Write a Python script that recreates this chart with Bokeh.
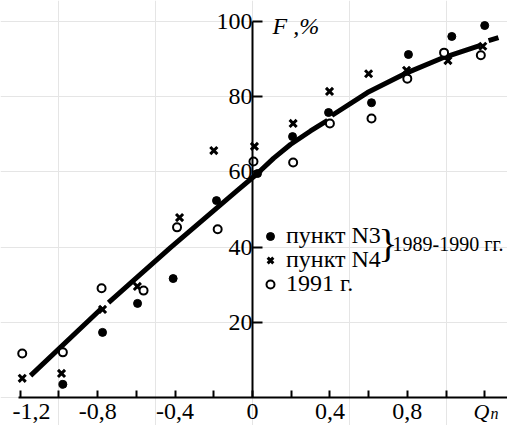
from bokeh.plotting import figure
from bokeh.models import LinearAxis, FixedTicker, Label, Legend, LegendItem, Range1d
from bokeh.embed import file_html
from bokeh.resources import INLINE

# ---- data ----
n3_x = [-0.98, -0.775, -0.594, -0.41, -0.186, 0.026, 0.207, 0.393, 0.615, 0.806, 1.03, 1.20]
n3_y = [3.6, 17.4, 25.1, 31.7, 52.4, 59.6, 69.4, 75.8, 78.4, 91.2, 96.0, 98.9]

n4_x = [-1.19, -0.987, -0.775, -0.595, -0.377, -0.2, 0.01, 0.21, 0.398, 0.60, 0.796, 1.01, 1.19]
n4_y = [5.2, 6.5, 23.5, 29.6, 47.9, 65.7, 66.8, 72.9, 81.4, 86.1, 87.0, 89.6, 93.4]

y91_x = [-1.19, -0.98, -0.78, -0.563, -0.39, -0.18, 0.005, 0.21, 0.40, 0.615, 0.80, 0.99, 1.18]
y91_y = [11.8, 12.1, 29.1, 28.5, 45.3, 44.8, 62.8, 62.5, 72.9, 74.2, 84.8, 91.7, 91.0]

nan = float("nan")
curve_x = [-1.147, -0.775, nan, -0.744, -0.424, -0.078, 0.021, 0.11, 0.196, 0.30, 0.388, nan,
           0.41, 0.594, 0.80, 0.987, 1.178, nan, 1.22, 1.271]
curve_y = [5.9, 24.0, nan, 25.3, 39.9, 55.1, 59.4, 63.7, 67.3, 70.9, 73.7, nan,
           75.0, 81.1, 86.4, 90.4, 93.6, nan, 94.9, 95.7]

x_ticks = [-1.2, -1.0, -0.8, -0.6, -0.4, -0.2, 0, 0.2, 0.4, 0.6, 0.8, 1.0, 1.2]
x_tick_labels = ["\u00a0\u00a0-1,2", "", "-0,8", "", "-0,4", "", "0", "", "0,4", "", "0,8", "", ""]
y_ticks = [20, 40, 60, 80, 100]
y_tick_labels = ["20", "40", "60", "80", "100"]

series_labels = ["пункт N3", "пункт N4", "1991 г."]
group_label = "1989-1990 гг."

FONT = "Liberation Serif"

p = figure(width=507, height=425, output_backend="svg", toolbar_location=None,
           x_axis_location=None, y_axis_location=None,
           x_range=Range1d(-1.3023, 1.3178), y_range=Range1d(-7.33, 105.55),
           min_border=0, min_border_left=0, min_border_right=0,
           min_border_top=0, min_border_bottom=0, title=None)
p.outline_line_color = None
p.background_fill_color = "white"
p.border_fill_color = "white"

xaxis = LinearAxis(fixed_location=0, ticker=FixedTicker(ticks=x_ticks),
                   major_label_overrides=dict(zip(x_ticks, x_tick_labels)),
                   bounds=(-1.21, 1.32), axis_line_width=2, axis_line_color="black",
                   major_tick_line_width=2, major_tick_line_color="black",
                   major_tick_in=7, major_tick_out=0, minor_tick_line_color=None,
                   major_label_standoff=0, major_label_text_font=FONT,
                   major_label_text_font_size="24px", major_label_text_color="black")
p.add_layout(xaxis, "below")

yaxis = LinearAxis(fixed_location=0, ticker=FixedTicker(ticks=y_ticks),
                   major_label_overrides=dict(zip(y_ticks, y_tick_labels)),
                   bounds=(0, 100), axis_line_width=2, axis_line_color="black",
                   major_tick_line_width=2, major_tick_line_color="black",
                   major_tick_in=10, major_tick_out=0, minor_tick_line_color=None,
                   major_label_standoff=0, major_label_text_font=FONT,
                   major_label_text_font_size="24px", major_label_text_color="black")
p.add_layout(yaxis, "left")

p.line(curve_x, curve_y, line_width=5, line_color="black")

r1 = p.scatter(n3_x, n3_y, marker="circle", size=8, fill_color="black", line_color="black")
r2 = p.scatter(n4_x, n4_y, marker="x", size=10, line_color="black", line_width=3)
r3 = p.scatter(y91_x, y91_y, marker="circle", size=8, fill_color="white",
               line_color="black", line_width=2)

for lab, r, ly in zip(series_labels, [r1, r2, r3], [176, 152, 128]):
    leg = Legend(items=[LegendItem(label=lab, renderers=[r])], location=(260, ly),
                 padding=0, margin=0, spacing=0, label_standoff=6,
                 glyph_width=20, glyph_height=20, label_height=20,
                 label_text_font=FONT, label_text_font_size="24px",
                 label_text_color="black",
                 background_fill_alpha=0, border_line_alpha=0)
    p.add_layout(leg)

p.add_layout(Label(x=0.70, y=41.0, text="}", text_font=FONT, text_font_size="40px",
                   text_align="center", text_baseline="middle", text_color="black"))
p.add_layout(Label(x=0.724, y=41.0, text=group_label, text_font=FONT,
                   text_font_size="20px", text_align="left", text_baseline="middle",
                   text_color="black"))

p.add_layout(Label(x=0, y=100, x_offset=20, y_offset=-5, text="F ,%", text_font=FONT,
                   text_font_style="italic", text_font_size="24px",
                   text_baseline="middle", text_color="black"))
p.add_layout(Label(x=1.183, y=0, y_offset=-1, text="Q", text_font=FONT,
                   text_font_style="italic", text_font_size="22px",
                   text_align="center", text_baseline="top", text_color="black"))
p.add_layout(Label(x=1.183, y=0, x_offset=9, y_offset=-7, text="n", text_font=FONT,
                   text_font_style="italic", text_font_size="16px",
                   text_align="left", text_baseline="top", text_color="black"))

open("out.html", "w").write(file_html(p, INLINE))
